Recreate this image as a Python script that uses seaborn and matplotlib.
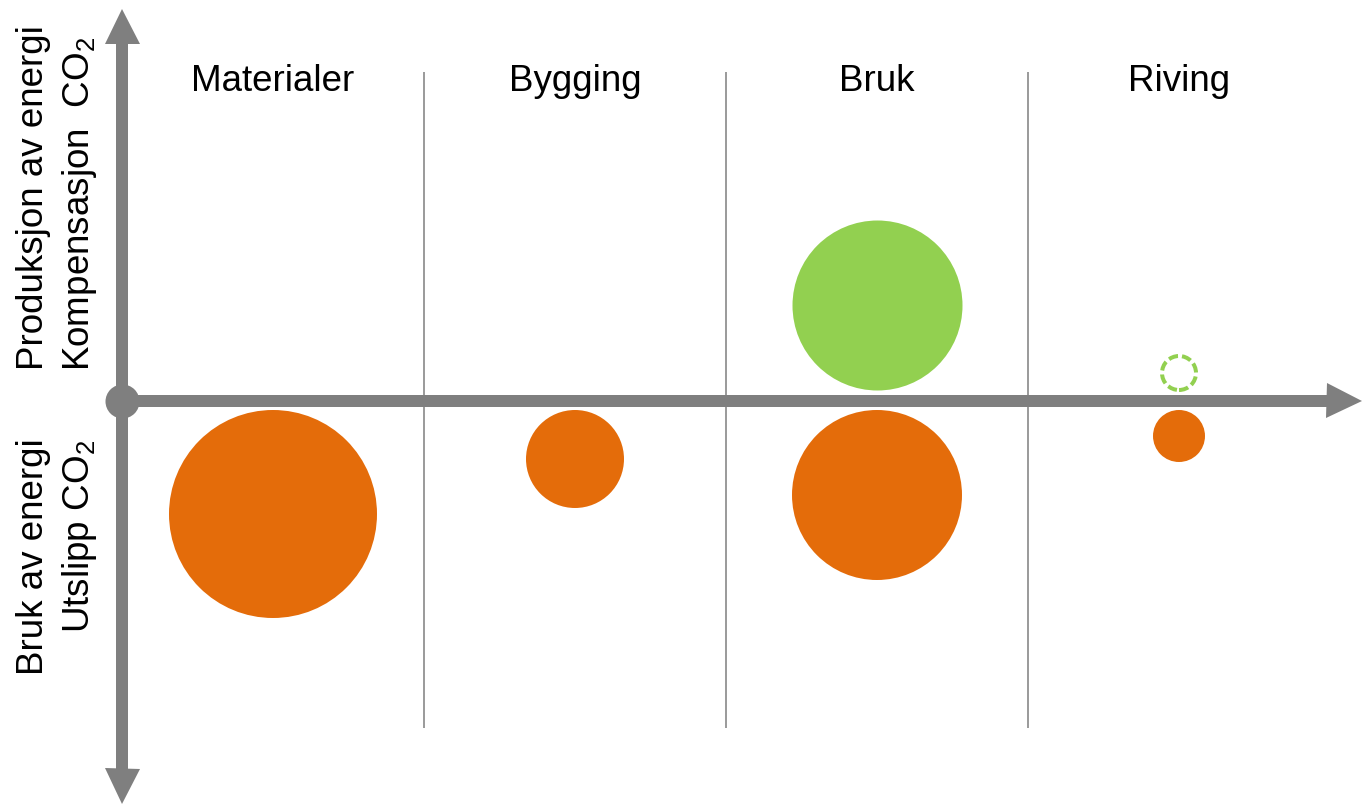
import numpy as np
import pandas as pd
import matplotlib.pyplot as plt
import seaborn as sns

# --- Data: circle sizes (radius units) per life-cycle phase ---
phases = ["Materialer", "Bygging", "Bruk", "Riving"]
emission = [10.4, 4.9, 8.5, 2.6]          # Utslipp CO2 / Bruk av energi (below axis)
compensation = [0.0, 0.0, 8.5, 1.9]       # Kompensasjon CO2 / Produksjon av energi (above axis)
compensation_dashed = [False, False, False, True]

label_up = ["Produksjon av energi", "Kompensasjon  CO$_2$"]
label_down = ["Bruk av energi", "Utslipp CO$_2$"]

# --- Style ---
ORANGE = "#E46C0A"
GREEN = "#92D050"
GREY = "#7F7F7F"
GAP_DOWN = 0.9       # distance between axis and circle edge (y units)
GAP_UP = 1.15
PX_PER_Y = 10        # pixels per y unit
PX_PER_X = 302       # pixels per phase column
DPI = 100
FS = 26.5

sns.set_theme(style="white")
plt.rcParams["font.family"] = ["Liberation Sans", "DejaVu Sans"]
plt.rcParams["mathtext.fontset"] = "custom"
plt.rcParams["mathtext.rm"] = "Liberation Sans"
plt.rcParams["mathtext.default"] = "regular"

fig = plt.figure(figsize=(13.63, 8.06), dpi=DPI)
ax = fig.add_axes([0, 0, 1, 1])
ax.set_xlim(-273 / PX_PER_X, (1363 - 273) / PX_PER_X)
ax.set_ylim(-405 / PX_PER_Y, 401 / PX_PER_Y)
ax.axis("off")

x_pos = np.arange(len(phases))


def px_x(px):
    return (px - 273) / PX_PER_X


def px_y(py):
    return (401 - py) / PX_PER_Y


def marker_s(r):
    # scatter size (pt^2) for a circle of radius r y-units
    return (2 * r * PX_PER_Y * 72 / DPI) ** 2


# --- Axes with arrows ---
shaft_lw = 12 * 72 / DPI
head = 35 * 72 / DPI
x_left = -0.5
y_top, y_bot = px_y(8), px_y(803)
x_tip = px_x(1361)
hx = 17.5 / PX_PER_X
hy = 17.5 / PX_PER_Y

ax.plot([x_left, x_left], [y_bot + hy, y_top - hy], color=GREY, lw=shaft_lw,
        solid_capstyle="butt", zorder=2)
ax.plot([x_left, x_tip - hx], [0, 0], color=GREY, lw=shaft_lw,
        solid_capstyle="butt", zorder=2)
ax.plot(x_left, y_top - hy, marker="^", ms=head, mew=0, color=GREY, zorder=2)
ax.plot(x_left, y_bot + hy, marker="v", ms=head, mew=0, color=GREY, zorder=2)
ax.plot(x_tip - hx, 0, marker=">", ms=head, mew=0, color=GREY, zorder=2)
ax.plot(x_left, 0, marker="o", ms=34 * 72 / DPI, mew=0, color=GREY, zorder=3)

# --- Column dividers and headers ---
ax.vlines(x_pos[1:] - 0.5, px_y(728), px_y(72), color=GREY, lw=1.1, zorder=1)
for xi, name in zip(x_pos, phases):
    ax.text(xi, px_y(91), name, ha="center", va="baseline", fontsize=FS, color="black")

# --- Circles ---
em = np.array(emission)
df_em = pd.DataFrame({"x": x_pos, "y": -(GAP_DOWN + em), "s": marker_s(em)})
df_em = df_em[em > 0]
sns.scatterplot(data=df_em, x="x", y="y", s=df_em["s"].values, color=ORANGE,
                linewidth=0, ax=ax, zorder=4, legend=False)

co = np.array(compensation)
dashed = np.array(compensation_dashed)
solid = (co > 0) & ~dashed
df_co = pd.DataFrame({"x": x_pos[solid], "y": GAP_UP + co[solid], "s": marker_s(co[solid])})
sns.scatterplot(data=df_co, x="x", y="y", s=df_co["s"].values, color=GREEN,
                linewidth=0, ax=ax, zorder=4, legend=False)

ring = (co > 0) & dashed
ring_lw = 4
df_ring = pd.DataFrame({"x": x_pos[ring], "y": GAP_DOWN + co[ring],
                        "s": marker_s(co[ring] - ring_lw / 2 / PX_PER_Y)})
sns.scatterplot(data=df_ring, x="x", y="y", s=df_ring["s"].values,
                facecolors="none", edgecolors=GREEN, linewidth=ring_lw * 72 / DPI,
                linestyle=(0, (2.4, 1.0)), ax=ax, zorder=4, legend=False)

# --- Side labels (rotated, baseline-anchored) ---
side = [(label_up[0], 43, 198), (label_up[1], 89, 204),
        (label_down[0], 43, 557), (label_down[1], 89, 536)]
for txt, bx, cy in side:
    ax.text(px_x(bx), px_y(cy), txt, rotation=90, rotation_mode="anchor",
            ha="center", va="baseline", fontsize=FS, color="black")

fig.savefig("out.png", dpi=DPI, facecolor="white")
